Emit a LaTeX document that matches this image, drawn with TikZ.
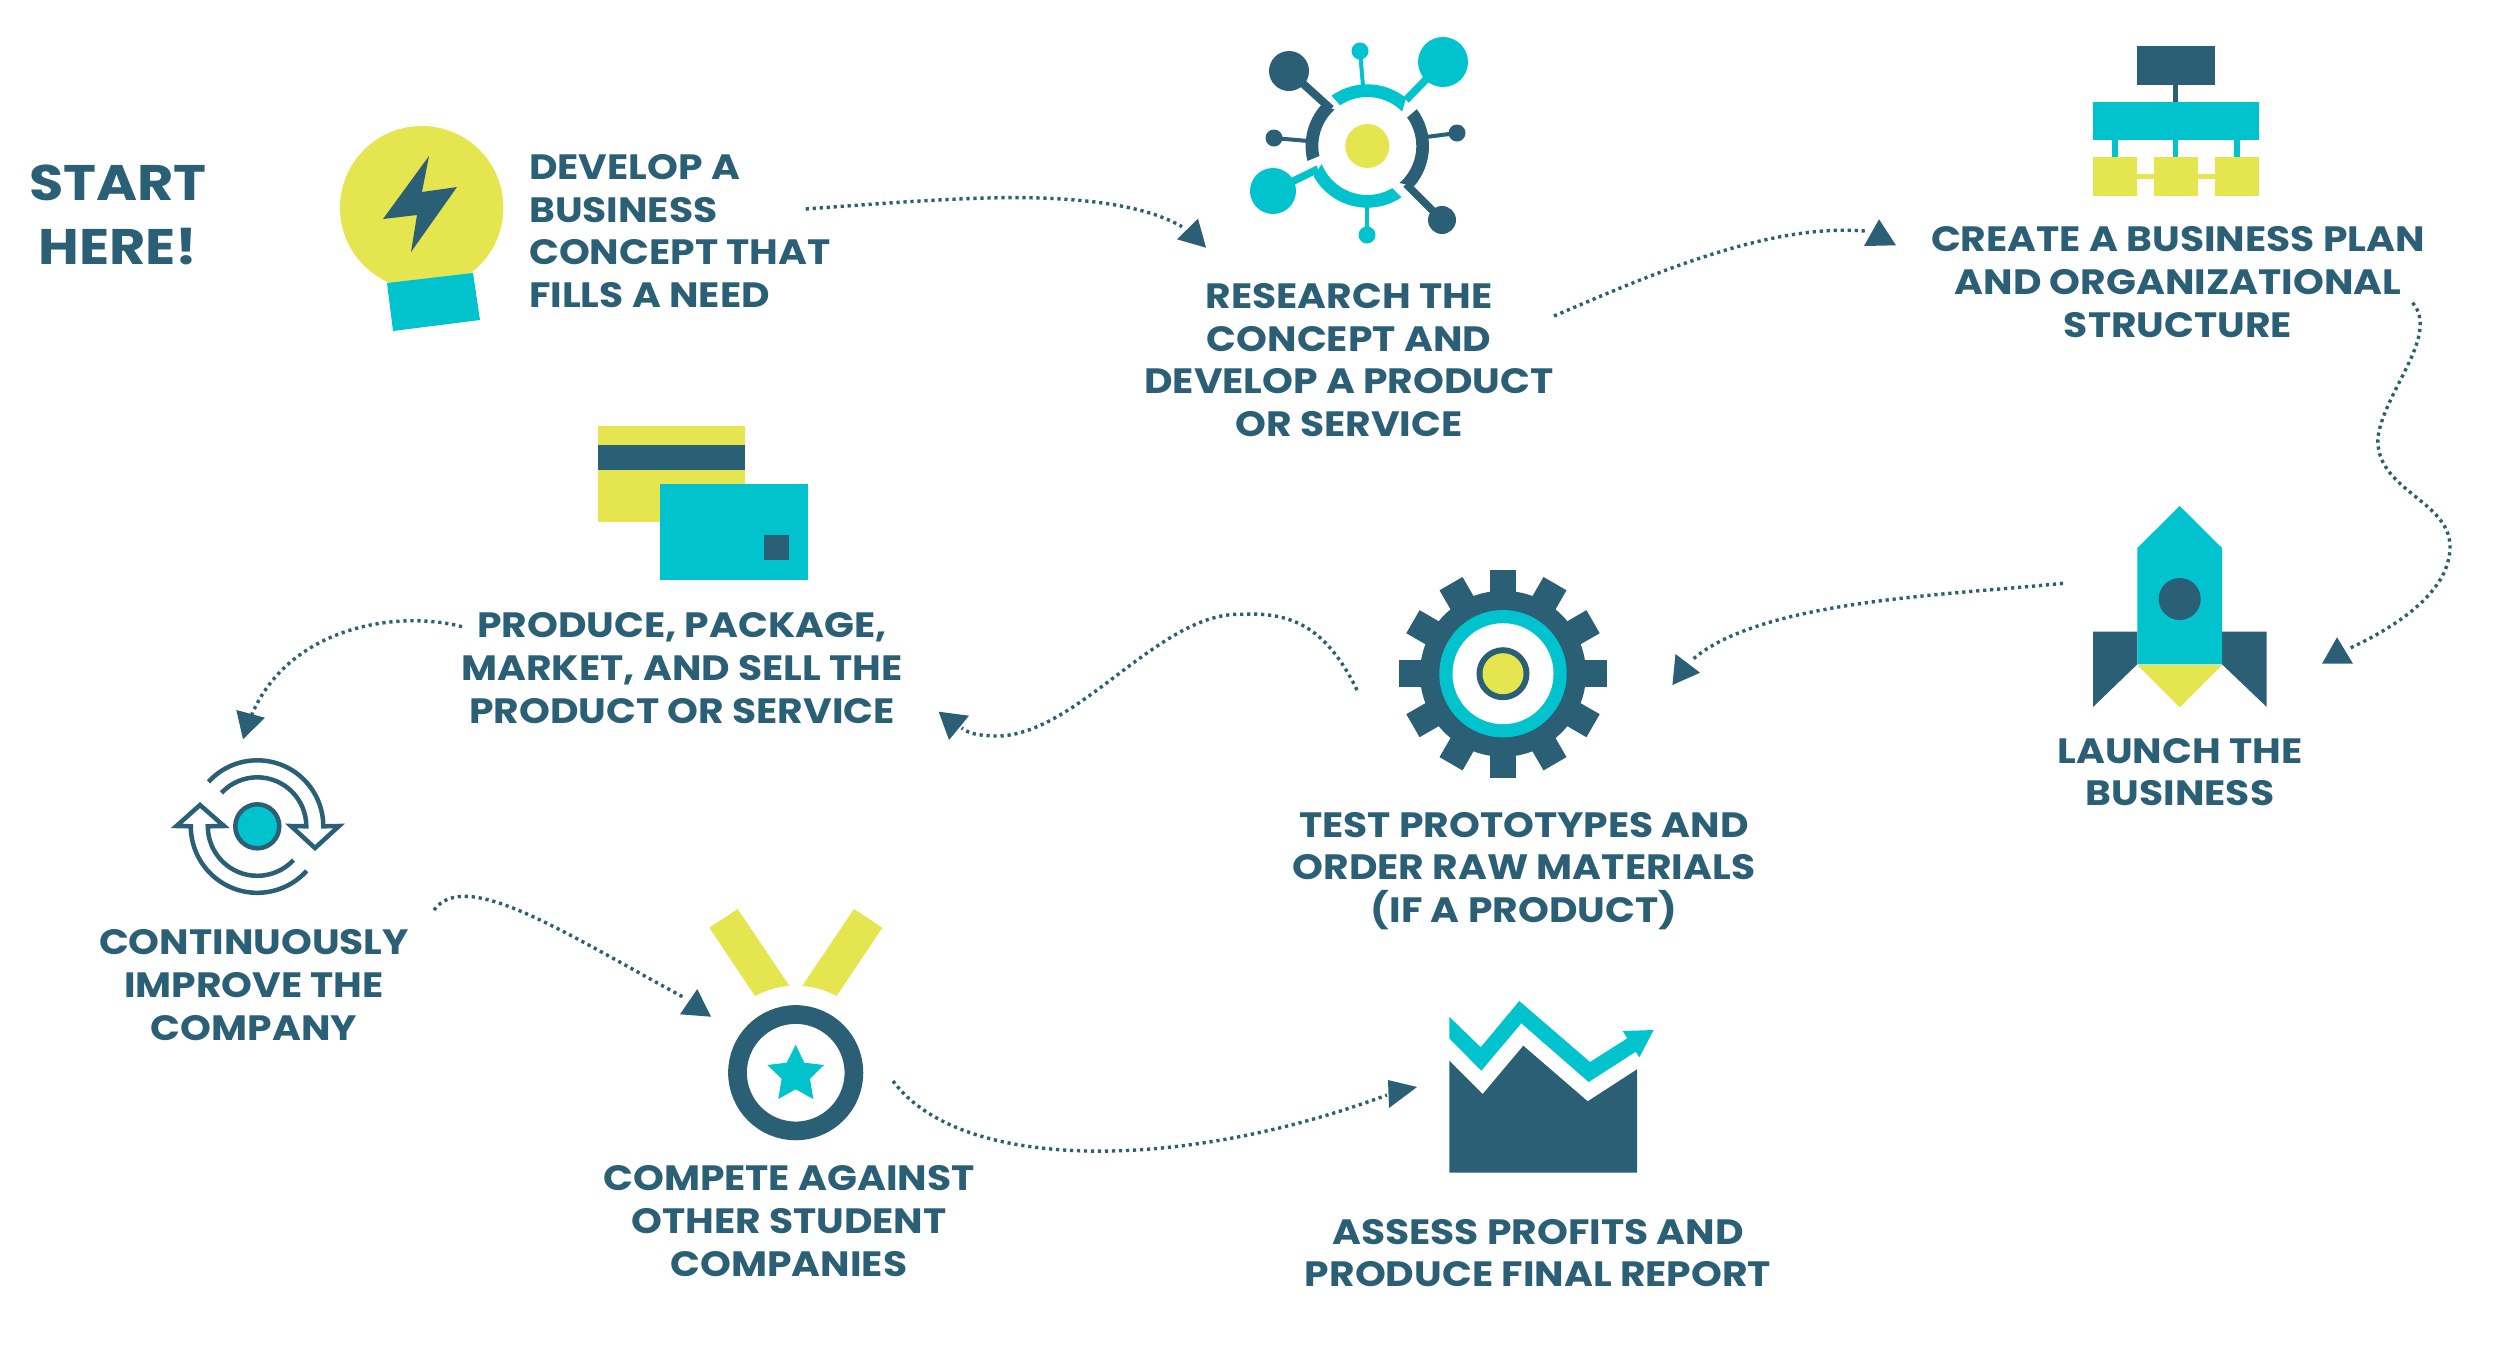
\documentclass[tikz,border=0pt]{standalone}
\usepackage{fontspec}
\setmainfont{Poppins}[FakeStretch=1.115]
\usetikzlibrary{calc}
\definecolor{navy}{HTML}{2A5F75}
\definecolor{aqua}{HTML}{00C3CE}
\definecolor{lime}{HTML}{E5E54F}
\tikzset{
  lbl/.style={font=\bfseries\fontsize{35.2}{42.7}\selectfont,align=center,text=navy,inner sep=0pt},
  bigl/.style={font=\bfseries\fontsize{50}{64}\selectfont,align=center,text=navy,inner sep=0pt},
  conn/.style={draw=navy,line width=3.4,dash pattern=on 3.2 off 3.8},
  head/.style={fill=navy},
  loopline/.style={draw=navy,line width=4.5,miter limit=10}
}
\begin{document}
\begin{tikzpicture}[x=1pt,y=1pt]
\useasboundingbox (0,0) rectangle (2500,-1350);
% --- labels
\node[bigl] (start) at (118,-215) {START\\HERE!};
\node[lbl,anchor=west,align=left] (develop) at (529,-231) {DEVELOP A\\BUSINESS\\CONCEPT THAT\\FILLS A NEED};
\node[lbl] (research) at (1349,-360) {RESEARCH THE\\CONCEPT AND\\DEVELOP A PRODUCT\\OR SERVICE};
\node[lbl] (create) at (2178,-282) {CREATE A BUSINESS PLAN\\AND ORGANIZATIONAL\\STRUCTURE};
\node[lbl] (launch) at (2180,-772) {LAUNCH THE\\BUSINESS};
\node[lbl] (test) at (1524,-871) {TEST PROTOTYPES AND\\ORDER RAW MATERIALS\\(IF A PRODUCT)};
\node[lbl] (produce) at (682,-668) {PRODUCE, PACKAGE,\\MARKET, AND SELL THE\\PRODUCT OR SERVICE};
\node[lbl] (improve) at (254,-985) {CONTINUOUSLY\\IMPROVE THE\\COMPANY};
\node[lbl] (compete) at (789,-1221) {COMPETE AGAINST\\OTHER STUDENT\\COMPANIES};
\node[lbl] (assess) at (1538,-1253) {ASSESS PROFITS AND\\PRODUCE FINAL REPORT};
% --- bulb
\fill[lime] (421.7,-207.7) circle[radius=81.7];
\fill[aqua] (387,-283) -- (473,-273) -- (480,-320) -- (393,-331) -- cycle;
\fill[navy] (429,-156) -- (422,-192) -- (457,-187) -- (411,-252) -- (417,-215) -- (383,-219) -- cycle;
% --- network
\coordinate (nc) at (1367.3,-146);
\fill[lime] (nc) circle[radius=22];
\draw[navy,line width=8] (1289,-71) -- (1331,-109);
\draw[aqua,line width=4] (1360,-51) -- (1363,-86);
\draw[aqua,line width=7.5] (1443,-62) -- (1406,-100);
\draw[navy,line width=4] (1457,-133) -- (1426,-137);
\draw[navy,line width=7.5] (1442,-220) -- (1406,-184);
\draw[aqua,line width=4] (1367,-235) -- (1367,-205);
\draw[aqua,line width=7.5] (1273,-191) -- (1318,-169);
\draw[navy,line width=4] (1274,-138) -- (1308,-141);
\fill[navy] (1289,-71) circle[radius=20];
\fill[aqua] (1360,-51) circle[radius=8.5];
\fill[aqua] (1443,-62) circle[radius=25];
\fill[navy] (1457,-133) circle[radius=8.5];
\fill[navy] (1442,-220) circle[radius=14];
\fill[aqua] (1367,-235) circle[radius=8.5];
\fill[aqua] (1273,-191) circle[radius=23];
\fill[navy] (1274,-138) circle[radius=8.5];
\fill[aqua] ($(nc)+(51:61.7)$) arc[start angle=51,end angle=125.5,radius=61.7] -- ($(nc)+(123.7:49)$) arc[start angle=123.7,end angle=44.7,radius=49] -- cycle;
\fill[navy] ($(nc)+(36.6:61.7)$) arc[start angle=36.6,end angle=-40.8,radius=61.7] -- ($(nc)+(-49:49)$) arc[start angle=-49,end angle=35.6,radius=49] -- cycle;
\fill[aqua] ($(nc)+(209.6:61.7)$) arc[start angle=209.6,end angle=303.6,radius=61.7] -- ($(nc)+(300.6:49)$) arc[start angle=300.6,end angle=201.6,radius=49] -- cycle;
\fill[navy] ($(nc)+(138.5:61.7)$) arc[start angle=138.5,end angle=194,radius=61.7] -- ($(nc)+(191.8:49)$) arc[start angle=191.8,end angle=132,radius=49] -- cycle;
% --- org chart
\fill[navy] (2173,-85) rectangle (2178.4,-102);
\fill[aqua] (2112.3,-140) rectangle (2117.7,-157.5);
\fill[aqua] (2173,-140) rectangle (2178.4,-157.5);
\fill[aqua] (2234.3,-140) rectangle (2239.7,-157.5);
\fill[lime] (2137,-174) rectangle (2153.7,-179.4);
\fill[lime] (2198,-174) rectangle (2215,-179.4);
\fill[navy] (2137,-46) rectangle (2214.7,-85);
\fill[aqua] (2092.7,-102) rectangle (2259,-140.3);
\fill[lime] (2092.7,-157.3) rectangle (2137,-195.7);
\fill[lime] (2153.7,-157.3) rectangle (2198,-195.7);
\fill[lime] (2215,-157.3) rectangle (2259,-195.7);
% --- rocket
\fill[navy] (2093,-631.7) -- (2137.3,-631.7) -- (2137.3,-664.3) -- (2093,-707) -- cycle;
\fill[navy] (2266.7,-631.7) -- (2222,-631.7) -- (2222,-664.3) -- (2266.7,-707) -- cycle;
\fill[aqua] (2179.7,-506) -- (2222,-548) -- (2222,-664.3) -- (2137.3,-664.3) -- (2137.3,-548) -- cycle;
\fill[lime] (2137.3,-665) -- (2222,-665) -- (2179.7,-707.3) -- cycle;
\fill[navy] (2179.7,-599) circle[radius=21];
% --- gear
\coordinate (gc) at (1503,-673.7);
\foreach \a in {0,30,...,330}{
  \fill[navy,shift={(gc)},rotate=\a] (-13.3,70) rectangle (13.3,104);
}
\fill[navy] (gc) circle[radius=83];
\fill[aqua] (gc) circle[radius=63.7];
\fill[white] (gc) circle[radius=50.5];
\fill[navy] (gc) circle[radius=26.5];
\fill[lime] (gc) circle[radius=20.5];
% --- cards
\fill[lime] (597.7,-426) rectangle (745.3,-521.7);
\fill[navy] (597.7,-445) rectangle (745.3,-470);
\fill[aqua] (660.3,-484.3) rectangle (808,-579.7);
\fill[navy] (763.7,-535.3) rectangle (788.7,-560.3);
% --- cycle
\coordinate (cyc) at (257.3,-826.3);
\draw[navy,line width=4.5,fill=aqua] (cyc) circle[radius=22];
\draw[loopline] ($(cyc)+(137.7:66)$) arc[start angle=137.7,end angle=0,radius=66] -- (339,-826) -- (315,-848) -- (291,-826) -- ($(cyc)+(0:49)$) arc[start angle=0,end angle=137,radius=49];
\draw[loopline] ($(cyc)+(-42:66.5)$) arc[start angle=-42,end angle=-180,radius=66.5] -- (176.5,-826) -- (200,-805) -- (224,-826) -- ($(cyc)+(180:49.5)$) arc[start angle=180,end angle=317,radius=49.5];
% --- medal
\fill[lime] (709.3,-927.7) -- (737.7,-909) -- (789.3,-985.7) to[bend right=10] (755,-996) -- cycle;
\fill[lime] (854,-909) -- (882.3,-927.7) -- (836.7,-996) to[bend right=10] (802.3,-985.7) -- cycle;
\draw[navy,line width=18.7] (795.7,-1072.7) circle[radius=58.2];
\fill[aqua] (795.7,-1044.7) -- (804.3,-1062.7) -- (824,-1065) -- (810,-1078.7) -- (813.3,-1099) -- (795.7,-1089.3) -- (778.3,-1099) -- (781.7,-1078.7) -- (767.3,-1065) -- (786.7,-1062.7) -- cycle;
% --- chart
\fill[navy] (1449.3,-1060.7) -- (1482.7,-1094) -- (1523.3,-1045.7) -- (1587.7,-1101.3) -- (1637,-1069.3) -- (1637,-1172.7) -- (1449.3,-1172.7) -- cycle;
\fill[aqua] (1449.3,-1016.7) -- (1480.7,-1047.3) -- (1519.3,-1001) -- (1590,-1062) -- (1627.3,-1038.3) -- (1622.7,-1031) -- (1653.7,-1030) -- (1639.3,-1057.3) -- (1635.7,-1051.7) -- (1588.7,-1082) -- (1521.3,-1023.3) -- (1481.3,-1070.7) -- (1449.3,-1038.3) -- cycle;
% --- connectors
\coordinate (a1s) at (805.7,-209);
\coordinate (a1m) at (1040,-198);
\coordinate (a1e) at (1182,-226.7);
\draw[conn] (a1s) .. controls (900,-202) and (980,-196) .. (a1m) .. controls (1100,-200) and (1150,-208) .. (a1e);
\fill[head] (1198,-218.7) -- (1177,-239.3) -- (1206,-247.7) -- cycle;
\coordinate (a2s) at (1554,-316);
\coordinate (a2e) at (1868,-231.3);
\draw[conn] (a2s) .. controls (1650,-275) and (1770,-222) .. (a2e);
\fill[head] (1879,-219.3) -- (1864,-246) -- (1896,-245.3) -- cycle;
\coordinate (a3s) at (2412.6,-302.7);
\coordinate (a3m) at (2378,-436.7);
\coordinate (a3n) at (2450,-546.7);
\coordinate (a3e) at (2349.6,-648.3);
\draw[conn] (a3s) .. controls (2440,-335) and (2385,-390) .. (a3m) .. controls (2374,-490) and (2450,-500) .. (a3n) .. controls (2450,-590) and (2400,-625) .. (a3e);
\fill[head] (2337,-637.3) -- (2322,-663.7) -- (2353,-663.7) -- cycle;
\coordinate (a4s) at (2063,-583.3);
\coordinate (a4e) at (1692,-660);
\draw[conn] (a4s) .. controls (1950,-595) and (1760,-600) .. (a4e);
\fill[head] (1675.5,-654) -- (1672.4,-685) -- (1700,-672.7) -- cycle;
\coordinate (a5s) at (1357,-690);
\coordinate (a5m) at (1241,-614.3);
\coordinate (a5n) at (1000,-736);
\coordinate (a5e) at (961.6,-728);
\draw[conn] (a5s) .. controls (1325,-625) and (1290,-612) .. (a5m) .. controls (1160,-612) and (1080,-732) .. (a5n) .. controls (985,-736) and (970,-735) .. (a5e);
\fill[head] (938.7,-711.7) -- (969,-715.7) -- (949,-740) -- cycle;
\coordinate (a6s) at (462,-626.7);
\coordinate (a6e) at (251.6,-715);
\draw[conn] (a6s) .. controls (400,-610) and (290,-625) .. (a6e);
\fill[head] (236.3,-710) -- (265,-717.7) -- (243,-739.3) -- cycle;
\coordinate (a7s) at (434,-910);
\coordinate (a7e) at (683,-997);
\draw[conn] (a7s) .. controls (465,-868) and (560,-930) .. (a7e);
\fill[head] (697.3,-989) -- (680,-1014.3) -- (711,-1016.7) -- cycle;
\coordinate (a8s) at (893,-1081);
\coordinate (a8e) at (1387,-1095);
\draw[conn] (a8s) .. controls (960,-1172) and (1180,-1172) .. (a8e);
\fill[head] (1388,-1080) -- (1417,-1087) -- (1389,-1108) -- cycle;
\end{tikzpicture}
\end{document}
